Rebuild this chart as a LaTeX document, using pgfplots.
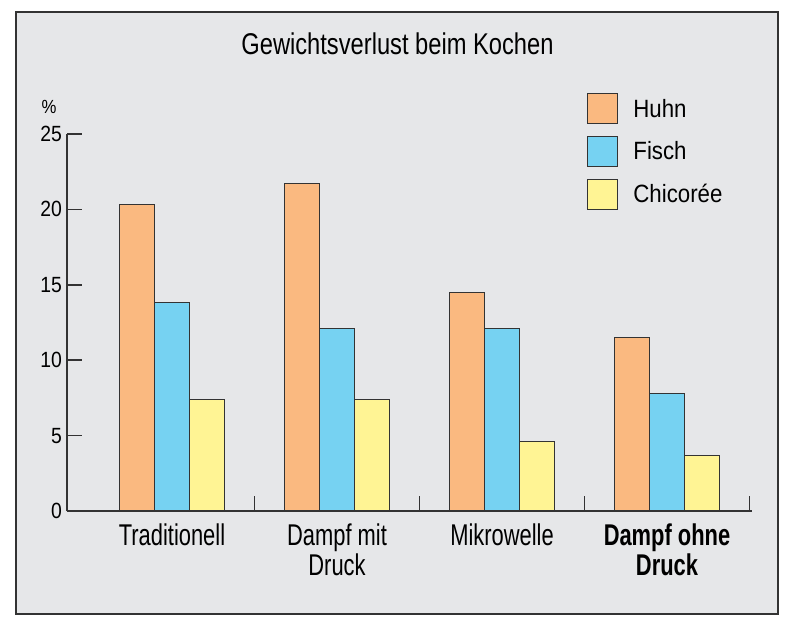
\documentclass[border=0pt]{standalone}
\usepackage{fontspec}
\setmainfont{Liberation Sans}
\newfontfamily\titlefont{Liberation Sans}[FakeStretch=0.79]
\newfontfamily\catfont{Liberation Sans}[FakeStretch=0.73]
\newfontfamily\legfont{Liberation Sans}[FakeStretch=0.89]
\newfontfamily\tickfont{Liberation Sans}[FakeStretch=0.88]
\usepackage{pgfplots}
\pgfplotsset{compat=1.18}
\definecolor{bg}{HTML}{E6E7E9}
\definecolor{cOr}{HTML}{FAB980}
\definecolor{cBl}{HTML}{76D2F2}
\definecolor{cYe}{HTML}{FFF494}
\definecolor{ln}{HTML}{333333}
\begin{document}
\begin{tikzpicture}
\fill[white] (0bp,0bp) rectangle (800bp,634bp);
\draw[draw=ln, line width=2.2bp, fill=bg] (16bp,20bp) rectangle (778bp,622bp);
\begin{axis}[
  at={(67bp,123bp)}, anchor=south west, scale only axis,
  width=684.5bp, height=377bp,
  xmin=0.3636, xmax=4.512, ymin=0, ymax=25,
  axis x line=bottom, axis y line=left,
  axis line style={-, draw=ln, line width=1.5bp},
  ybar=0pt, bar width=35bp,
  xtick={1.5,2.5,3.5,4.5}, xticklabels={,,,},
  extra x ticks={1,2,3,4},
  extra x tick labels={Traditionell,{Dampf mit\\Druck},Mikrowelle,{\bfseries Dampf ohne\\\bfseries Druck}},
  extra x tick style={major tick length=0pt},
  ytick={0,5,10,15,20,25},
  tick align=inside, major tick length=15bp,
  tick style={draw=ln, line width=1.5bp},
  /pgf/number format/assume math mode=true,
  xticklabel style={font=\catfont\fontsize{30bp}{30bp}\selectfont, align=center, inner sep=0pt, anchor=north, yshift=-13bp},
  yticklabel style={font=\tickfont\fontsize{22bp}{22bp}\selectfont, inner sep=0pt, anchor=east, xshift=-5bp},
  ylabel={\%},
  ylabel style={rotate=-90, at={(axis description cs:-0.0263,1.073)}, anchor=center, font=\tickfont\fontsize{19bp}{20bp}\selectfont},
  title={Gewichtsverlust beim Kochen},
  title style={at={(axis description cs:0.4828,1.1963)}, anchor=base, font=\titlefont\fontsize{30bp}{30bp}\selectfont},
  legend style={at={(axis description cs:0.7597,1.1088)}, anchor=north west, draw=none, fill=none, inner sep=0pt,
    row sep=11.5bp, column sep=15bp, nodes={inner sep=0pt},
    font=\legfont\fontsize{25bp}{25bp}\selectfont},
  legend cell align=left,
]
\addplot[fill=cOr, draw=ln, line width=1.2bp,
  legend image code/.code={\draw[fill=cOr, draw=ln, line width=1.2bp] (0bp,-15bp) rectangle (30bp,15bp);}]
  coordinates {(1,20.3) (2,21.7) (3,14.5) (4,11.5)};
\addplot[fill=cBl, draw=ln, line width=1.2bp,
  legend image code/.code={\draw[fill=cBl, draw=ln, line width=1.2bp] (0bp,-15bp) rectangle (30bp,15bp);}]
  coordinates {(1,13.8) (2,12.1) (3,12.1) (4,7.8)};
\addplot[fill=cYe, draw=ln, line width=1.2bp,
  legend image code/.code={\draw[fill=cYe, draw=ln, line width=1.2bp] (0bp,-15bp) rectangle (30bp,15bp);}]
  coordinates {(1,7.4) (2,7.4) (3,4.6) (4,3.7)};
\legend{Huhn,Fisch,Chicorée}
\end{axis}
\end{tikzpicture}
\end{document}
